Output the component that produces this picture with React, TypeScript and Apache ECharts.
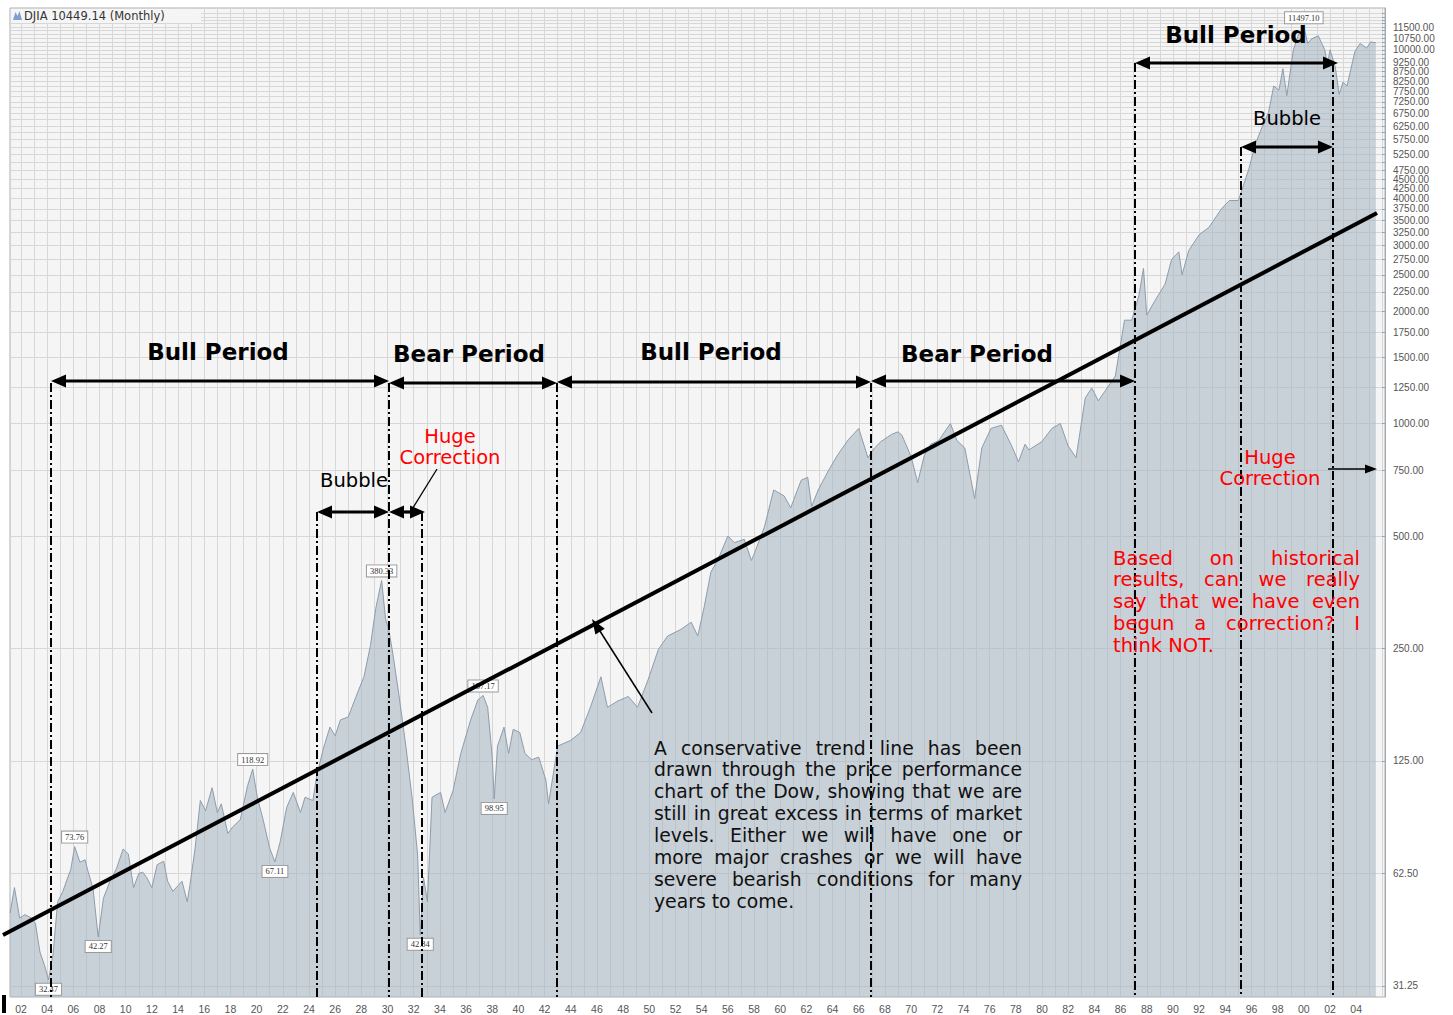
import React, { useEffect, useRef } from "react";
import * as echarts from "echarts";

// ---- Data ----
const years = [
  1901.17, 1901.5, 1901.9, 1902.3, 1902.8, 1903.1, 1903.45, 1903.8, 1904.1, 1904.45, 1904.8,
  1905.2, 1905.5, 1905.8, 1906.1, 1906.5, 1906.9, 1907.1, 1907.5, 1907.9, 1908.3, 1908.8,
  1909.3, 1909.8, 1910.2, 1910.6, 1911.0, 1911.3, 1911.6, 1912.0, 1912.4, 1912.9, 1913.2,
  1913.6, 1914.0, 1914.3, 1914.7, 1914.9, 1915.3, 1915.7, 1916.1, 1916.6, 1917.0, 1917.3,
  1917.8, 1918.2, 1918.75, 1919.3, 1919.7, 1920.05, 1920.5, 1921.0, 1921.4, 1921.8, 1922.3,
  1922.8, 1923.35, 1923.7, 1924.3, 1924.6, 1925.1, 1925.6, 1926.0, 1926.4, 1927.0, 1927.7,
  1928.2, 1928.7, 1929.1, 1929.55, 1929.85, 1930.1, 1930.4, 1930.85, 1931.4, 1931.9, 1932.3,
  1932.5, 1932.75, 1933.05, 1933.4, 1934.05, 1934.4, 1935.0, 1935.6, 1936.35, 1936.9, 1937.3,
  1937.65, 1938.0, 1938.15, 1938.4, 1938.9, 1939.25, 1939.6, 1940.1, 1940.5, 1941.0, 1941.55,
  1942.1, 1942.3, 1943.0, 1944.0, 1944.75, 1945.5, 1946.3, 1946.8, 1947.6, 1948.4, 1949.1,
  1949.9, 1950.7, 1951.4, 1952.4, 1953.2, 1953.7, 1954.2, 1954.7, 1955.25, 1956.0, 1956.5,
  1957.25, 1957.8, 1958.0, 1958.8, 1959.5, 1960.3, 1960.8, 1961.6, 1962.1, 1962.4, 1962.9,
  1963.7, 1964.4, 1965.2, 1966.0, 1966.7, 1967.2, 1967.7, 1968.5, 1969.0, 1969.3, 1970.0,
  1970.5, 1971.0, 1971.5, 1972.1, 1973.0, 1973.5, 1974.1, 1974.85, 1975.4, 1976.1, 1976.9,
  1977.7, 1978.2, 1978.7, 1979.0, 1980.0, 1980.75, 1981.4, 1982.0, 1982.6, 1983.3, 1983.8,
  1984.3, 1984.8, 1985.6, 1986.3, 1986.85, 1987.4, 1987.75, 1988.0, 1988.6, 1989.4, 1989.9,
  1990.45, 1990.7, 1991.2, 1992.0, 1992.75, 1993.7, 1994.3, 1995.0, 1995.8, 1996.3, 1996.8,
  1997.3, 1997.7, 1998.1, 1998.4, 1998.7, 1999.2, 1999.6, 2000.0, 2000.3, 2000.6, 2001.1,
  2001.6, 2001.8, 2002.0, 2002.4, 2002.7, 2003.0, 2003.3, 2003.9, 2004.3, 2004.8, 2005.1,
  2005.5,
];
const closes = [
  49, 57.3, 47.5, 48.5, 47.5, 46, 38.5, 35.5, 32.47, 38, 52.5,
  56, 60, 64, 73.76, 67, 68, 63.7, 57, 42.27, 53.7, 59.6,
  64.5, 72.7, 70.5, 57.3, 62.5, 63, 61, 57.3, 66, 67.4, 59.6,
  56, 58, 59.6, 52.5, 58, 73, 98, 92, 106, 91, 96,
  80, 83.5, 87, 107, 118.92, 100, 87, 73, 67.11, 76, 94,
  103, 91, 100, 98, 114.5, 135, 154, 146, 161, 164, 190,
  210, 255, 320, 380.33, 300, 280, 243, 190, 137, 98, 70,
  42.84, 61, 52.5, 100, 103, 91, 104, 131, 161, 182, 187.17,
  174, 128, 98.95, 137, 154, 131, 152, 149, 131, 126, 128,
  111, 96, 137, 142, 149, 174, 210, 174, 181, 186, 174,
  206, 249, 270, 281, 294, 270, 324, 400, 433, 500, 480,
  490, 430, 447, 530, 664, 640, 595, 705, 718, 600, 664,
  750, 825, 905, 970, 810, 860, 895, 935, 950, 930, 815,
  695, 820, 880, 900, 1000, 900, 860, 630, 860, 970, 990,
  868, 790, 880, 850, 895, 970, 1000, 870, 810, 1170, 1245,
  1150, 1220, 1340, 1890, 1890, 2200, 2600, 1950, 2125, 2360, 2750,
  2880, 2500, 2900, 3200, 3350, 3750, 3950, 3950, 4800, 5600, 6200,
  6800, 8000, 7800, 8900, 7540, 10000, 11000, 11497.1, 10400, 10700, 10900,
  10000, 9100, 10000, 9000, 7600, 8200, 8000, 9900, 10400, 10100, 10500,
  10449.14,
];

// Extreme-value tags on the chart
const tagYears = [1904.1, 1906.1, 1907.9, 1919.7, 1921.4, 1929.55, 1932.5, 1937.3, 1938.15, 2000.0];
const tagValues = [32.47, 73.76, 42.27, 118.92, 67.11, 380.33, 42.84, 187.17, 98.95, 11497.1];
const tagTexts = ["32.47", "73.76", "42.27", "118.92", "67.11", "380.33", "42.84", "187.17", "98.95", "11497.10"];
const tagSides = ["bottom", "top", "bottom", "top", "bottom", "top", "bottom", "top", "bottom", "top"];

// Axis tick labels
const yLabelValues = [
  31.25, 62.5, 125, 250, 500, 750, 1000, 1250, 1500, 1750, 2000, 2250, 2500, 2750, 3000,
  3250, 3500, 3750, 4000, 4250, 4500, 4750, 5250, 5750, 6250, 6750, 7250, 7750, 8250,
  8750, 9250, 10000, 10750, 11500,
];
const yGridValues = [31.25, 62.5, 125, 250, 500];
for (let v = 750; v <= 12500; v += 250) yGridValues.push(v);
const xLabelYears: number[] = [];
for (let y = 1902; y <= 2004; y += 2) xLabelYears.push(y);
const xGridYears: number[] = [];
for (let y = 1902; y <= 2006; y += 1) xGridYears.push(y);

const blackNote = [
  "A conservative trend line has been",
  "drawn through the price performance",
  "chart of the Dow, showing that we are",
  "still in great excess in terms of market",
  "levels.  Either we will have one or",
  "more major crashes or we will have",
  "severe bearish conditions for many",
  "years to come.",
];
const redNote = [
  "Based on historical",
  "results, can we really",
  "say that we have even",
  "begun a correction?  I",
  "think NOT.",
];

const FONT = "DejaVu Sans";

function measure(text: string, size: number, weight = "normal") {
  const c = document.createElement("canvas").getContext("2d")!;
  c.font = `${weight} ${size}px "${FONT}"`;
  return c.measureText(text).width;
}

function textEl(text: string, x: number, y: number, size: number, fill: string, opts: any = {}) {
  return {
    type: "text",
    x,
    y,
    silent: true,
    style: {
      text,
      fill,
      fontSize: size,
      fontFamily: FONT,
      fontWeight: opts.weight || "normal",
      textAlign: opts.align || "left",
      align: opts.align || "left",
      textVerticalAlign: "middle",
      verticalAlign: "middle",
    },
  };
}

function paragraph(lines: string[], left: number, right: number, top: number, step: number, size: number, fill: string) {
  const els: any[] = [];
  lines.forEach((line, i) => {
    const y = top + i * step;
    const words = line.split(/\s+/);
    const last = i === lines.length - 1;
    if (last || words.length < 2) {
      els.push(textEl(line, left, y, size, fill));
      return;
    }
    const widths = words.map((w) => measure(w, size));
    const sum = widths.reduce((a, b) => a + b, 0);
    const gap = Math.max(3, (right - left - sum) / (words.length - 1));
    let x = left;
    words.forEach((w, k) => {
      els.push(textEl(w, x, y, size, fill));
      x += widths[k] + gap;
    });
  });
  return els;
}

function head(tx: number, ty: number, fx: number, fy: number, len: number, half: number) {
  const dx = tx - fx, dy = ty - fy;
  const d = Math.sqrt(dx * dx + dy * dy);
  const ux = dx / d, uy = dy / d;
  const bx = tx - ux * len, by = ty - uy * len;
  return {
    type: "polygon",
    silent: true,
    shape: { points: [[tx, ty], [bx - uy * half, by + ux * half], [bx + uy * half, by - ux * half]] },
    style: { fill: "#000" },
  };
}

function dblArrow(x1: number, x2: number, y: number) {
  return [
    { type: "line", silent: true, shape: { x1: x1 + 6, y1: y, x2: x2 - 6, y2: y }, style: { stroke: "#000", lineWidth: 3.2 } },
    head(x1, y, x2, y, 15, 6.5),
    head(x2, y, x1, y, 15, 6.5),
  ];
}

function vDash(x: number, y1: number, y2: number) {
  return {
    type: "line",
    silent: true,
    shape: { x1: x, y1, x2: x, y2 },
    style: { stroke: "#000", lineWidth: 2, lineDash: [9, 3, 2, 3] },
  };
}

export default function App() {
  const ref = useRef<HTMLDivElement>(null);
  useEffect(() => {
    document.body.style.margin = "0";
    const chart = echarts.init(ref.current!, undefined, { renderer: "svg" });
    const data = years.map((y, i) => [y, closes[i]]);

    const graphic: any[] = [];
    // title band
    graphic.push({ type: "rect", silent: true, shape: { x: 11, y: 9, width: 190, height: 14 }, style: { fill: "#f5f5f5" } });
    graphic.push({ type: "polygon", silent: true, shape: { points: [[13, 20], [15.5, 12], [17.5, 16], [19.5, 11], [22, 20]] }, style: { fill: "#7f9fd0" } });
    graphic.push({
      type: "text", x: 24, y: 15.5, silent: true,
      style: { text: "DJIA 10449.14 (Monthly)", fill: "#333", fontSize: 11.5, fontFamily: FONT, textVerticalAlign: "middle", verticalAlign: "middle" },
    });
    // trend line
    graphic.push({ type: "line", silent: true, shape: { x1: 3, y1: 935, x2: 1377, y2: 213 }, style: { stroke: "#000", lineWidth: 4 } });
    // dash-dot verticals
    [[51, 383], [317, 512], [389, 383], [422, 512], [557, 383], [871, 383], [1135, 63], [1241, 147], [1333, 63]].forEach(([x, y]) =>
      graphic.push(vDash(x, y, 997))
    );
    // period arrows
    graphic.push(...dblArrow(51, 389, 381));
    graphic.push(...dblArrow(389, 557, 383));
    graphic.push(...dblArrow(557, 871, 382));
    graphic.push(...dblArrow(871, 1135, 381));
    graphic.push(...dblArrow(1135, 1338, 63));
    graphic.push(...dblArrow(1241, 1333, 147));
    graphic.push(...dblArrow(317, 389, 512));
    graphic.push(...dblArrow(389, 425, 512));
    // period titles
    graphic.push(textEl("Bull Period", 218, 352, 23, "#000", { weight: "bold", align: "center" }));
    graphic.push(textEl("Bear Period", 469, 354, 23, "#000", { weight: "bold", align: "center" }));
    graphic.push(textEl("Bull Period", 711, 352, 23, "#000", { weight: "bold", align: "center" }));
    graphic.push(textEl("Bear Period", 977, 354, 23, "#000", { weight: "bold", align: "center" }));
    graphic.push(textEl("Bull Period", 1236, 35, 23, "#000", { weight: "bold", align: "center" }));
    graphic.push(textEl("Bubble", 354, 480, 19.5, "#000", { align: "center" }));
    graphic.push(textEl("Bubble", 1287, 118, 19.5, "#000", { align: "center" }));
    // huge corrections
    graphic.push(textEl("Huge", 450, 436, 19.5, "#ff0000", { align: "center" }));
    graphic.push(textEl("Correction", 450, 457, 19.5, "#ff0000", { align: "center" }));
    graphic.push({ type: "line", silent: true, shape: { x1: 437, y1: 469, x2: 411, y2: 511 }, style: { stroke: "#000", lineWidth: 1.3 } });
    graphic.push(textEl("Huge", 1270, 457, 19.5, "#ff0000", { align: "center" }));
    graphic.push(textEl("Correction", 1270, 478, 19.5, "#ff0000", { align: "center" }));
    graphic.push({ type: "line", silent: true, shape: { x1: 1328, y1: 469, x2: 1366, y2: 469 }, style: { stroke: "#000", lineWidth: 1.5 } });
    graphic.push(head(1377, 469, 1328, 469, 12, 4.5));
    // notes
    graphic.push(...paragraph(redNote, 1113, 1360, 558, 21.8, 19.5, "#ff0000"));
    graphic.push(...paragraph(blackNote, 654, 1022, 748, 21.9, 18.8, "#111"));
    // thin arrow to trend line
    graphic.push({ type: "line", silent: true, shape: { x1: 652, y1: 713, x2: 598, y2: 628 }, style: { stroke: "#000", lineWidth: 1.5 } });
    graphic.push(head(592, 619, 652, 713, 15, 5.5));
    graphic.push({ type: "rect", silent: true, shape: { x: 2, y: 995, width: 4, height: 18 }, style: { fill: "#000" } });
    graphic.forEach((g) => (g.z = 100));

    const option: any = {
      animation: false,
      backgroundColor: "#ffffff",
      grid: { left: 10, right: 68, top: 8, bottom: 18, show: true, backgroundColor: "#f5f5f5", borderColor: "#b0b0b0", borderWidth: 1 },
      xAxis: {
        type: "value",
        min: 1901.16,
        max: 2006.2,
        axisLine: { show: false },
        axisTick: { show: false, customValues: xGridYears },
        splitLine: { show: true, lineStyle: { color: "#d7d7d7", width: 1 } },
        axisLabel: {
          customValues: xLabelYears,
          formatter: (v: number) => String(Math.round(v) % 100).padStart(2, "0"),
          fontSize: 10.5,
          fontFamily: "Liberation Sans",
          color: "#555",
          margin: 6,
        },
      },
      yAxis: {
        type: "log",
        position: "right",
        min: 29.2,
        max: 12938,
        axisLine: { show: true, lineStyle: { color: "#a0aab4" } },
        axisTick: { show: true, inside: true, length: 3, customValues: yGridValues, lineStyle: { color: "#9aa4ae" } },
        splitLine: { show: true, lineStyle: { color: "#d7d7d7", width: 1 } },
        axisLabel: {
          customValues: yLabelValues,
          formatter: (v: number) => Number(v).toFixed(2),
          fontSize: 10,
          fontFamily: "Liberation Sans",
          color: "#555",
          margin: 8,
        },
      },
      series: [
        {
          type: "line",
          data,
          showSymbol: false,
          lineStyle: { color: "#8e9cab", width: 1 },
          areaStyle: { color: "rgba(166,180,194,0.82)", origin: "start" },
          markPoint: {
            symbol: "circle",
            symbolSize: 0,
            data: tagYears.map((y, i) => ({
              coord: [y, tagValues[i]],
              label: {
                show: true,
                formatter: tagTexts[i],
                position: tagSides[i],
                distance: 4,
                fontSize: 8.5,
                fontFamily: "Liberation Serif",
                color: "#333",
                backgroundColor: "#ffffff",
                borderColor: "#9a9a9a",
                borderWidth: 1,
                padding: [1, 3],
              },
            })),
          },
        },
      ],
      graphic,
    };
    chart.setOption(option);
    return () => chart.dispose();
  }, []);
  return <div ref={ref} style={{ width: 1453, height: 1015 }} />;
}
